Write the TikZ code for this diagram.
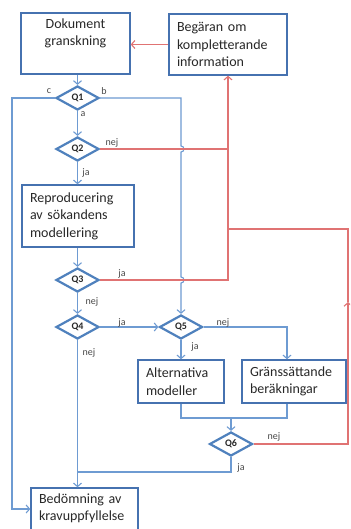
\documentclass[tikz,border=0pt]{standalone}
\usepackage{fontspec}
\setmainfont{Carlito}
\usetikzlibrary{shapes.geometric,arrows.meta,calc}
\definecolor{boxblue}{RGB}{70,114,176}
\definecolor{dia}{RGB}{79,129,189}
\definecolor{lineblue}{RGB}{110,155,210}
\definecolor{linered}{RGB}{224,115,115}
\definecolor{txt}{RGB}{40,40,40}
\begin{document}
\begin{tikzpicture}[x=1pt,y=1pt,
  box/.style={draw=boxblue, line width=1.4pt, inner xsep=8pt, inner ysep=0pt, font=\fontsize{14}{17.5}\selectfont, text=txt, align=left},
  dec/.style={diamond, draw=dia, line width=2.2pt, minimum width=43pt, minimum height=24pt, inner sep=0pt, font=\fontsize{10}{11}\selectfont\bfseries, text=txt},
  lab/.style={font=\fontsize{10}{11}\selectfont, text=txt!85, inner sep=0pt},
  bl/.style={draw=lineblue, line width=1.1pt},
  rd/.style={draw=linered, line width=1.1pt},
  arr/.style={-{Straight Barb[length=3.5pt,width=8pt]}}
]
\useasboundingbox (0,0) rectangle (350,-529);
\fill[white] (0,0) rectangle (350,-529);
\clip (0,0) rectangle (350,-529);

% nodes
\node[box, align=center, text width=93pt, minimum height=61pt] (doc) at (75.5,-43.5) {Dokument\\granskning\\\strut};
\node[box, text width=102pt, minimum height=61pt] (beg) at (228,-44.5) {Begäran om\\kompletterande\\information};
\node[dec] (q1) at (77.5,-98) {Q1};
\node[dec] (q2) at (77.5,-149) {Q2};
\node[box, text width=96pt, minimum height=62pt] (rep) at (78,-216) {Reproducering\\av sökandens\\modellering};
\node[dec] (q3) at (77.5,-280) {Q3};
\node[dec] (q4) at (77.5,-327) {Q4};
\node[dec] (q5) at (181,-327) {Q5};
\node[box, text width=70pt, minimum height=43pt] (alt) at (181,-381.5) {Alternativa\\modeller};
\node[box, text width=88pt, minimum height=43pt] (gran) at (294,-381.5) {Gränssättande\\beräkningar};
\node[dec] (q6) at (231,-444) {Q6};
\node[box, text width=91pt, minimum height=61pt] (bed) at (84.5,-518.5) {Bedömning av\\kravuppfyllelse\\\strut};

% helper coordinates
\coordinate (gx) at (287,0);
\coordinate (cx) at (12,0);
\coordinate (merge) at (231,-418);
\coordinate (jb) at (77.5,-472);
\coordinate (rA) at (348,-302);
\coordinate (rB) at (348,-229);

% connectors
\draw[rd,arr] (beg.west) -- (beg.west -| doc.east);
\draw[bl,arr] (q1.north |- doc.south) -- (q1.north);
\draw[bl,arr] (q1.west) -- (q1.west -| cx) |- ($(bed.west)+(0,9.5)$);
\draw[bl,arr] (q1.east) -- (q1.east -| q5.north)
  -- ($(q2.east -| q5.north)+(0,3)$) arc[start angle=90,end angle=-90,radius=3]
  -- ($(q3.east -| q5.north)+(0,3)$) arc[start angle=90,end angle=-90,radius=3]
  -- (q5.north);
\draw[bl,arr] (q1.south) -- (q2.north);
\draw[rd,arr] (q2.east) -| (beg.south);
\draw[rd] (q3.east) -- (q3.east -| beg.south) -- (q2.east -| beg.south);
\draw[bl,arr] (q2.south) -- (q2.south |- rep.north);
\draw[bl,arr] (q3.north |- rep.south) -- (q3.north);
\draw[bl,arr] (q3.south) -- (q4.north);
\draw[bl,arr] (q4.east) -- (q5.west);
\draw[bl,arr] (q5.south) -- (alt.north);
\draw[bl,arr] (q5.east) -| (gx |- gran.north);
\draw[bl] (alt.south) |- (merge) -| (gx |- gran.south);
\draw[bl,arr] (merge) -- (q6.north);
\draw[bl,arr] (q4.south) -- (q4.south |- bed.north);
\draw[bl] (q6.south) |- (jb);
\draw[rd,arr] (q6.east) -| (rA);
\draw[rd] (rA) -- (rB) -- (beg.south |- rB);

% labels
\node[lab] (lc) at (49,-91) {c};
\node[lab] (lb) at (104,-91) {b};
\node[lab] (la) at (83,-114) {a};
\node[lab] (l2n) at (112,-143) {nej};
\node[lab] (l2j) at (86,-173) {ja};
\node[lab] (l3j) at (122,-274) {ja};
\node[lab] (l3n) at (92,-302) {nej};
\node[lab] (l4j) at (122,-323) {ja};
\node[lab] (l5n) at (223,-323) {nej};
\node[lab] (l5j) at (195,-347) {ja};
\node[lab] (l4n) at (89,-353) {nej};
\node[lab] (l6n) at (274,-437) {nej};
\node[lab] (l6j) at (241,-468) {ja};
\end{tikzpicture}
\end{document}
